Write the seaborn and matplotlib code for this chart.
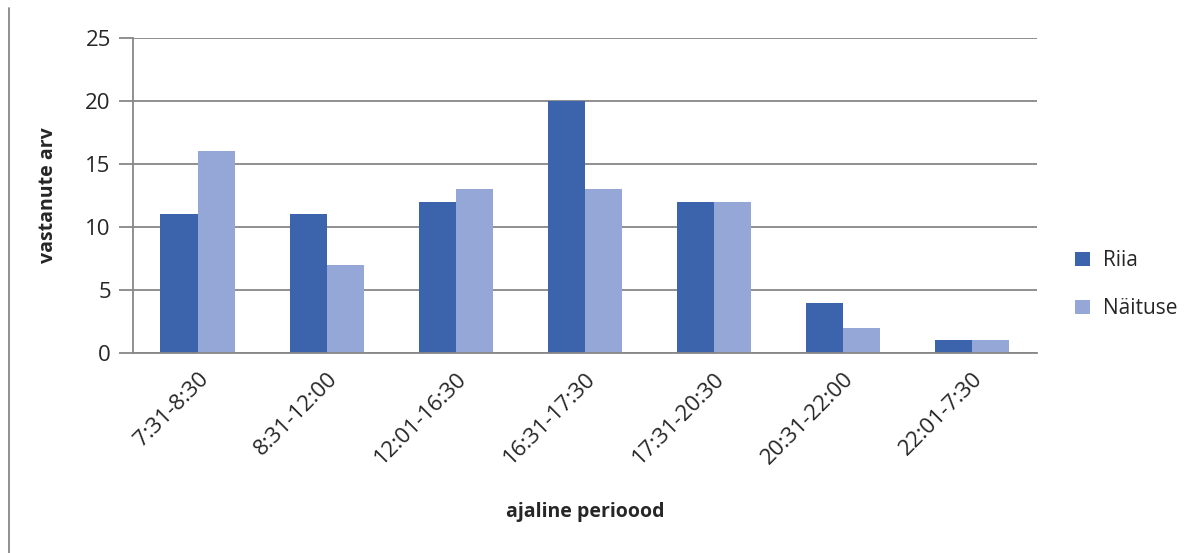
import numpy as np
import pandas as pd
import seaborn as sns
import matplotlib.pyplot as plt
from matplotlib.lines import Line2D

periods = ['7:31-8:30', '8:31-12:00', '12:01-16:30', '16:31-17:30',
           '17:31-20:30', '20:31-22:00', '22:01-7:30']
riia = [11, 11, 12, 20, 12, 4, 1]
naituse = [16, 7, 13, 13, 12, 2, 1]

df = pd.DataFrame({'periood': periods * 2,
                   'arv': riia + naituse,
                   'seeria': ['Riia'] * 7 + ['Näituse'] * 7})

sns.set_style('white')
plt.rcParams['font.family'] = ['Open Sans', 'DejaVu Sans']

fig = plt.figure(figsize=(11.94, 5.53), dpi=100)
ax = fig.add_axes([0.1114, 0.3617, 0.757, 0.5696])

sns.barplot(data=df, x='periood', y='arv', hue='seeria',
            palette=['#3C64AD', '#94A7D6'], width=0.575, gap=0,
            saturation=1, linewidth=0, ax=ax)

ax.set_ylim(0, 25)
ax.set_xlim(-0.5, 6.5)
ax.set_yticks([0, 5, 10, 15, 20, 25])
ax.grid(axis='y', color='#878787', linewidth=1.3)
ax.set_axisbelow(True)
for s in ['top', 'right']:
    ax.spines[s].set_visible(False)
for s in ['left', 'bottom']:
    ax.spines[s].set_color('#878787')
    ax.spines[s].set_linewidth(1.3)
ax.tick_params(axis='y', length=10, width=1.3, color='#878787', labelsize=16, pad=6, left=True)
ax.tick_params(axis='x', length=0, labelsize=16, pad=11)
plt.setp(ax.get_xticklabels(), rotation=45, ha='right', rotation_mode='anchor')

ax.set_xlabel('ajaline perioood', fontsize=14, fontweight='bold', labelpad=24)
ax.set_ylabel('vastanute arv', fontsize=14, fontweight='bold', labelpad=20)

ax.get_legend().remove()
handles, labels = ax.get_legend_handles_labels()
fig.legend(handles, labels, loc='center left', bbox_to_anchor=(0.885, 0.485),
           frameon=False, fontsize=15, handlelength=0.7, handleheight=0.7,
           labelspacing=1.3, handletextpad=0.6)

fig.add_artist(Line2D([0.0075, 0.0075], [0.0, 0.985], color='#878787',
                      linewidth=1.3, transform=fig.transFigure))

fig.savefig('out.png', dpi=100)
